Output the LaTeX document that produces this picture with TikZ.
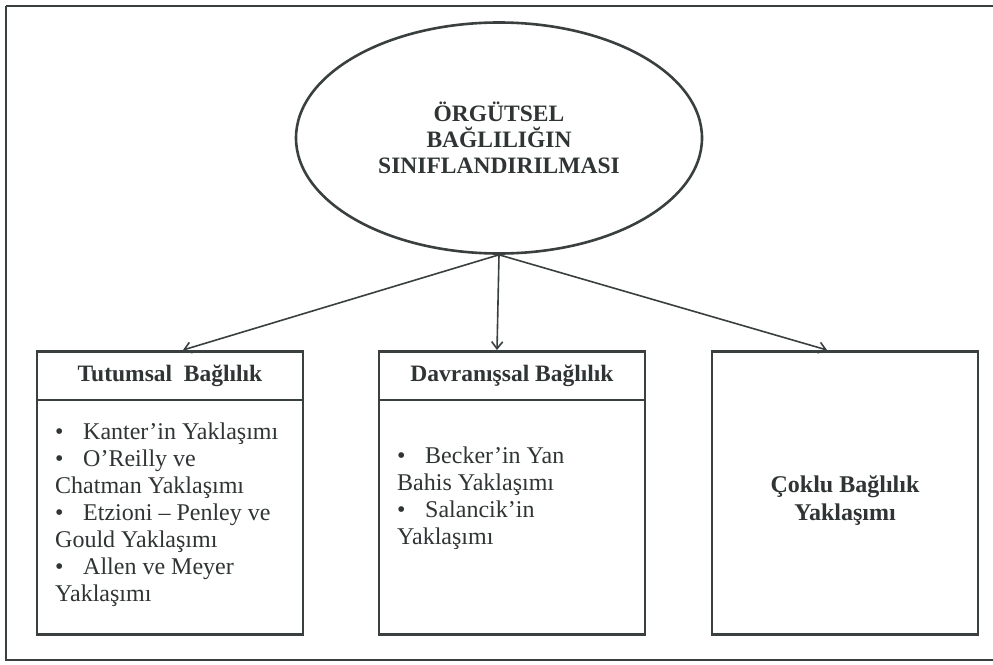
\documentclass[tikz,border=0pt]{standalone}
\usepackage{fontspec}
\setmainfont{Liberation Serif}
\usetikzlibrary{arrows.meta,shapes.geometric}
\definecolor{ink}{HTML}{2F3434}
\definecolor{rule}{HTML}{3A4040}
\tikzset{
  frame/.style={draw=rule, line width=2.6pt},
  panel/.style={draw=rule, line width=2.6pt, minimum width=266pt, minimum height=283pt, anchor=north, inner sep=0pt},
  link/.style={draw=rule, line width=1.6pt, -{Straight Barb[length=7pt,width=11pt,line width=1.6pt]}},
  headtxt/.style={text=ink, font=\fontsize{23.5}{27}\selectfont\bfseries, anchor=center},
  bodytxt/.style={text=ink, font=\fontsize{24}{27}\selectfont, align=left, anchor=north west, inner sep=0pt},
}
\newcommand{\bul}{\makebox[28pt][l]{\textbullet}}
\begin{document}
\begin{tikzpicture}[x=1pt,y=-1pt]
  \useasboundingbox (0,0) rectangle (993,664);
  \fill[white] (0,0) rectangle (993,664);
  % outer frame
  \draw[frame] (6,6) -- (993,6);
  \draw[frame] (6,6) -- (6,660) -- (993,660);

  % root ellipse
  \node[draw=rule, line width=2.6pt, ellipse, minimum width=406pt, minimum height=231pt, inner sep=0pt,
        text=ink, align=center, font=\fontsize{23.5}{26}\selectfont\bfseries] (root) at (499,138)
        {ÖRGÜTSEL\\BAĞLILIĞIN\\SINIFLANDIRILMASI};

  % three category panels
  \node[panel] (b1) at (170,350) {};
  \node[panel] (b2) at (512,350) {};
  \node[panel] (b3) at (845,350) {};

  % header separators
  \draw[rule, line width=2pt] (b1.west |- 0,400) -- (b1.east |- 0,400);
  \draw[rule, line width=2pt] (b2.west |- 0,400) -- (b2.east |- 0,400);

  % headers
  \node[headtxt] (h1) at (170,376) {Tutumsal\ \ Bağlılık};
  \node[headtxt] (h2) at (512,376) {Davranışsal Bağlılık};

  % panel contents
  \node[bodytxt] (t1) at (55,423) {\bul Kanter’in Yaklaşımı\\
    \bul O’Reilly ve\\
    Chatman Yaklaşımı\\
    \bul Etzioni -- Penley ve\\
    Gould Yaklaşımı\\
    \bul Allen ve Meyer\\
    Yaklaşımı};
  \node[bodytxt] (t2) at (397,447) {\bul Becker’in Yan\\
    Bahis Yaklaşımı\\
    \bul Salancik’in\\
    Yaklaşımı};
  \node[headtxt, align=center, font=\fontsize{24}{28}\selectfont\bfseries] (t3) at (845,501)
    {Çoklu Bağlılık\\Yaklaşımı};

  % connectors
  \coordinate (fork) at (root.south);
  \draw[link] (fork) -- ([xshift=13pt]b1.north);
  \draw[link] (fork) -- ([xshift=-15pt]b2.north);
  \draw[link] (fork) -- ([xshift=-18pt]b3.north);
\end{tikzpicture}
\end{document}
